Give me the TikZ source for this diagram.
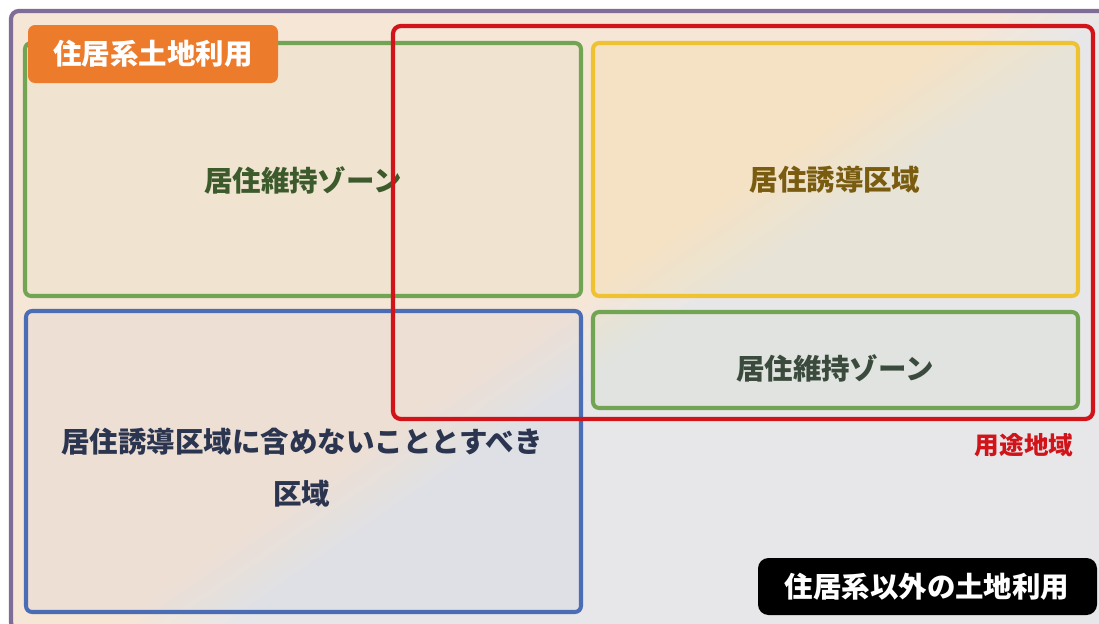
\documentclass[tikz,border=0pt]{standalone}
\usepackage{fontspec}
\newfontfamily\cjk{Noto Sans CJK JP}
\definecolor{bgpeach}{HTML}{F6E6D6}
\definecolor{bggray}{HTML}{E7E7E9}
\definecolor{cpurple}{HTML}{7F6C97}
\definecolor{cred}{HTML}{D0141A}
\definecolor{cgreen}{HTML}{72A553}
\definecolor{cyellow}{HTML}{EFC232}
\definecolor{cblue}{HTML}{4A6DB5}
\definecolor{corange}{HTML}{EC7B2C}
\definecolor{tgreen}{HTML}{3C5A2C}
\definecolor{tyellow}{HTML}{7A5C10}
\definecolor{tgreen2}{HTML}{3A4A3C}
\definecolor{tblue}{HTML}{2B3550}
\tikzset{
  zone/.style={line width=2.3pt, rounded corners=3.5pt},
  bigzone/.style={line width=2.4pt, rounded corners=4.5pt},
  zonetext/.style={font=\cjk\bfseries\fontsize{16.2}{29.5}\selectfont, inner sep=0pt, align=center},
  tag/.style={rounded corners=4pt},
}
\begin{document}
\begin{tikzpicture}[x=0.02cm, y=-0.02cm]
\useasboundingbox (0,0) rectangle (1099,623);
\begin{scope}
\clip (0,0) rectangle (1099,623);
\begin{scope}
\clip[rounded corners=4.5pt] (11,11) rectangle (1108,630);
\fill[bggray] (0,0) rectangle (1110,640);
\foreach \i in {0,...,12} {
  \pgfmathsetmacro{\d}{0.06-0.01*\i}
  \pgfmathtruncatemacro{\k}{round(100*\i/12)}
  \fill[bgpeach!\k!bggray] (0,0) -- ({1082*(1+\d)},0) -- (0,{748*(1+\d)}) -- cycle;
}
\end{scope}
\draw[bigzone, cpurple] (11,11) rectangle (1108,630);
\end{scope}
% zones
\draw[zone, cgreen, fill=cgreen, fill opacity=0.04] (25,43) rectangle (581,296);
\draw[zone, cyellow, fill=cyellow, fill opacity=0.10] (593,43) rectangle (1078,296);
\draw[zone, cblue, fill=cblue, fill opacity=0.05] (26,311) rectangle (581,612);
\draw[zone, cgreen, fill=cgreen, fill opacity=0.06] (593,312) rectangle (1078,408);
% zone texts
\node[zonetext, text=tgreen] (t1) at (303,180) {居住維持ゾーン};
\node[zonetext, text=tyellow] (t2) at (835,180) {居住誘導区域};
\node[zonetext, text=tgreen2] (t3) at (835,368) {居住維持ゾーン};
\node[zonetext, text=tblue] (t4) at (302,468) {居住誘導区域に含めないこととすべき\\区域};
% red area
\draw[bigzone, cred] (393,26) rectangle (1093,419);
\node[font=\cjk\bfseries\fontsize{14}{16}\selectfont, text=cred, inner sep=0pt] (t5) at (1024,445) {用途地域};
% labels
\fill[tag, corange] (28,25) rectangle (278,83);
\node[zonetext, text=white] (l1) at (153,54) {住居系土地利用};
\fill[tag, black, rounded corners=6pt] (758,558) rectangle (1097,615);
\node[zonetext, text=white] (l2) at (927,587) {住居系以外の土地利用};
\end{tikzpicture}
\end{document}
